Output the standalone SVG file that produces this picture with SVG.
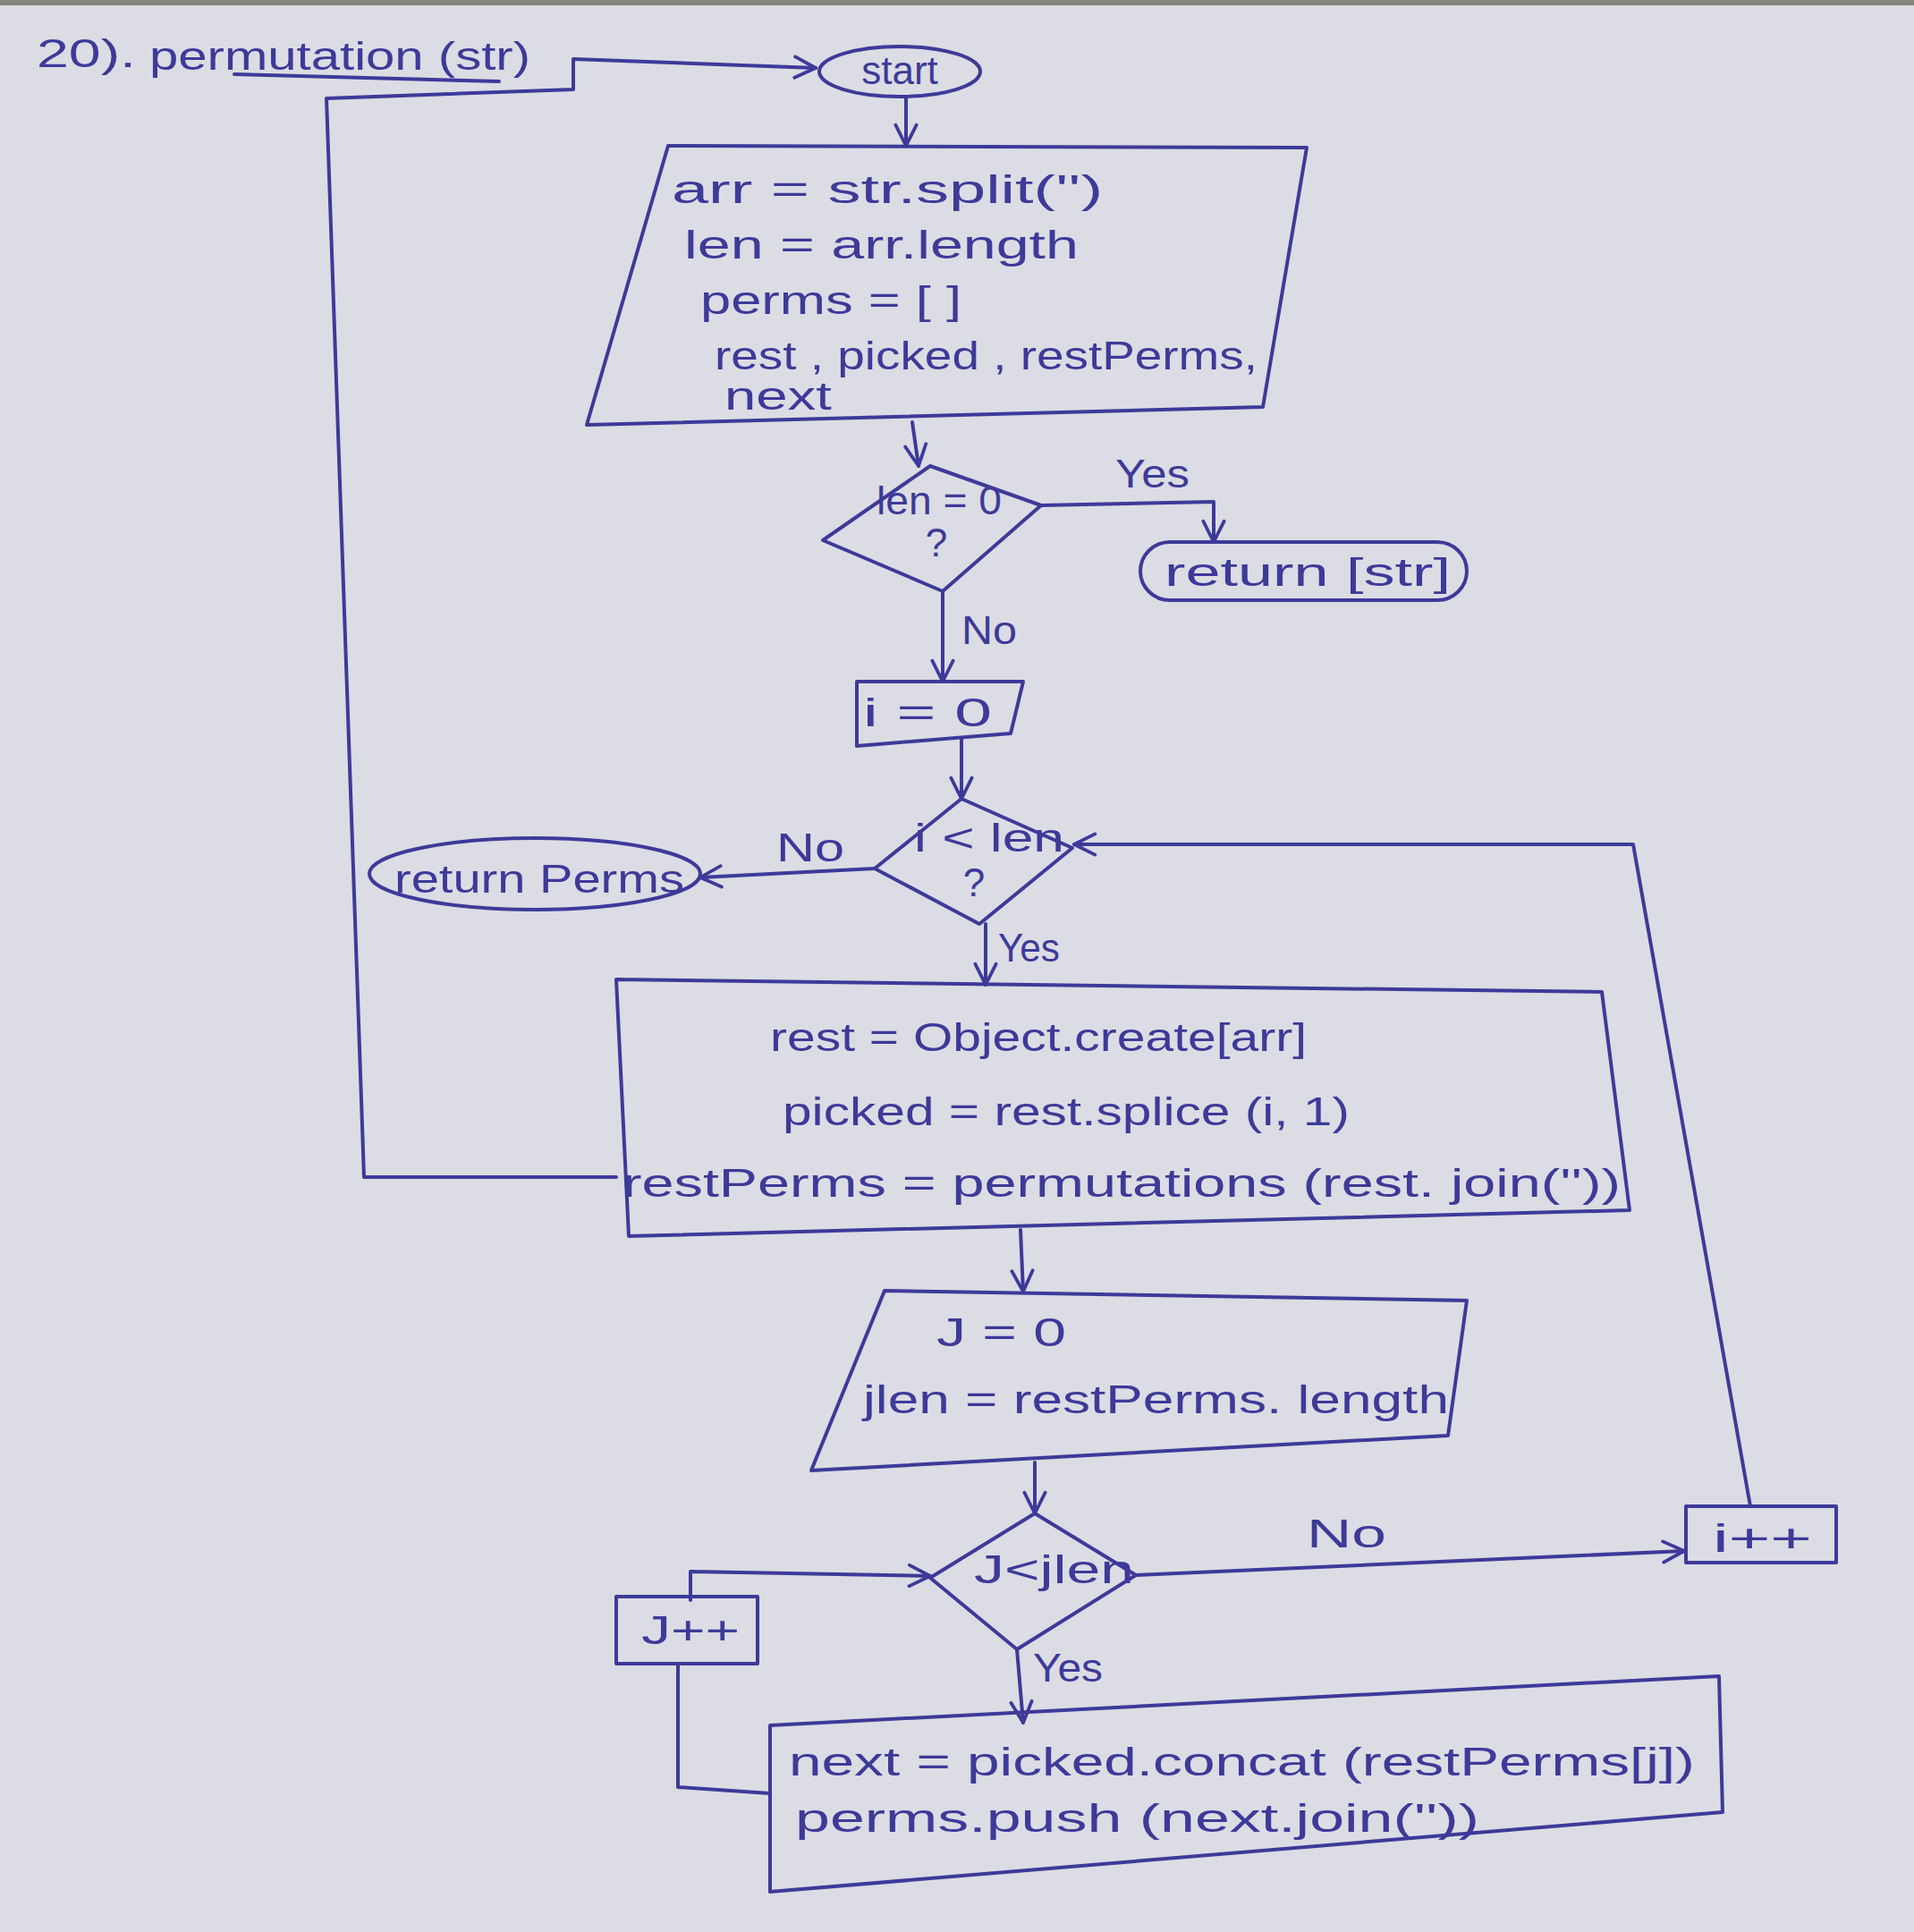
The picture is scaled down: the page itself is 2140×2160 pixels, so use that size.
<svg xmlns="http://www.w3.org/2000/svg" width="2140" height="2160" viewBox="0 0 2140 2160">
<style>
.ink{fill:none;stroke:#3d3a99;stroke-width:4;stroke-linejoin:round;stroke-linecap:round}
.t{font-family:"Liberation Sans","DejaVu Sans",sans-serif;font-size:44px;fill:#3d3a99}
.c{text-anchor:middle}
</style>
<defs>
<marker id="ah" viewBox="0 0 12 12" refX="11" refY="6" markerWidth="7" markerHeight="7" orient="auto" markerUnits="strokeWidth">
<path d="M1,1 L11,6 L1,11" fill="none" stroke="#3d3a99" stroke-width="1.6" stroke-linecap="round" stroke-linejoin="round"/>
</marker>
</defs>
<rect width="2140" height="2160" fill="#dcdce4"/>
<rect width="2140" height="6" fill="#8a8680"/>

<g id="title">
<text class="t" x="41" y="75" font-size="46" textLength="111" lengthAdjust="spacingAndGlyphs">20).</text>
<text class="t" x="167" y="78" font-size="46" textLength="426" lengthAdjust="spacingAndGlyphs">permutation (str)</text>
<path class="ink" d="M262,83 L558,91" stroke-width="3"/>
</g>

<g id="connectors">
<path class="ink" d="M689,1316 L407,1316 L365,110 L641,100 L641,66 L912,76" marker-end="url(#ah)"/>
<path class="ink" d="M1013,108 L1013,163" marker-end="url(#ah)"/>
<path class="ink" d="M1020,472 L1027,521" marker-end="url(#ah)"/>
<path class="ink" d="M1164,565 L1357,561 L1357,606" marker-end="url(#ah)"/>
<path class="ink" d="M1054,661 L1054,762" marker-end="url(#ah)"/>
<path class="ink" d="M1075,825 L1075,893" marker-end="url(#ah)"/>
<path class="ink" d="M978,971 L783,981" marker-end="url(#ah)"/>
<path class="ink" d="M1102,1033 L1102,1101" marker-end="url(#ah)"/>
<path class="ink" d="M1141,1375 L1144,1444" marker-end="url(#ah)"/>
<path class="ink" d="M1157,1635 L1157,1692" marker-end="url(#ah)"/>
<path class="ink" d="M1270,1761 L1883,1734" marker-end="url(#ah)"/>
<path class="ink" d="M1957,1684 L1826,944 L1201,944" marker-end="url(#ah)"/>
<path class="ink" d="M1137,1844 L1144,1926" marker-end="url(#ah)"/>
<path class="ink" d="M861,2005 L758,1998 L758,1860"/>
<path class="ink" d="M772,1789 L772,1757 L1040,1762" marker-end="url(#ah)"/>
</g>

<g id="start">
<ellipse class="ink" cx="1006" cy="80" rx="90" ry="28"/>
<text class="t c" x="1006" y="94">start</text>
</g>

<g id="init">
<path class="ink" d="M747,163 L1461,165 L1412,455 L656,475 Z"/>
<text class="t" x="751" y="227" textLength="482" lengthAdjust="spacingAndGlyphs">arr = str.split('')</text>
<text class="t" x="765" y="289" textLength="441" lengthAdjust="spacingAndGlyphs">len = arr.length</text>
<text class="t" x="783" y="351" textLength="292" lengthAdjust="spacingAndGlyphs">perms = [ ]</text>
<text class="t" x="799" y="413" textLength="607" lengthAdjust="spacingAndGlyphs">rest , picked , restPerms,</text>
<text class="t" x="810" y="458" textLength="120" lengthAdjust="spacingAndGlyphs">next</text>
</g>

<g id="cond-len">
<path class="ink" d="M1040,521 L1164,565 L1054,661 L920,604 Z"/>
<text class="t" x="980" y="575" font-size="40" textLength="140" lengthAdjust="spacingAndGlyphs">len = 0</text>
<text class="t c" x="1047" y="622" font-size="40">?</text>
</g>
<text class="t" x="1247" y="545" textLength="83" lengthAdjust="spacingAndGlyphs">Yes</text>
<text class="t" x="1075" y="720" textLength="62" lengthAdjust="spacingAndGlyphs">No</text>

<g id="return-str">
<rect class="ink" x="1275" y="606" width="365" height="65" rx="33"/>
<text class="t" x="1302" y="655" textLength="320" lengthAdjust="spacingAndGlyphs">return [str]</text>
</g>

<g id="i-init">
<path class="ink" d="M958,762 L1144,762 L1130,820 L958,834 Z"/>
<text class="t" x="965" y="812" textLength="144" lengthAdjust="spacingAndGlyphs">i = 0</text>
</g>

<g id="cond-i">
<path class="ink" d="M1075,893 L1199,948 L1095,1033 L978,971 Z"/>
<text class="t" x="1022" y="952" font-size="38" textLength="168" lengthAdjust="spacingAndGlyphs">i &lt; len</text>
<text class="t c" x="1089" y="1002" font-size="38">?</text>
</g>
<text class="t" x="868" y="963" textLength="76" lengthAdjust="spacingAndGlyphs">No</text>
<text class="t" x="1116" y="1075" textLength="69" lengthAdjust="spacingAndGlyphs">Yes</text>

<g id="return-perms">
<ellipse class="ink" cx="598" cy="977" rx="185" ry="40"/>
<text class="t" x="441" y="998" textLength="324" lengthAdjust="spacingAndGlyphs">return Perms</text>
</g>

<g id="body">
<path class="ink" d="M689,1095 L1791,1109 L1822,1353 L703,1382 Z"/>
<text class="t" x="861" y="1175" textLength="600" lengthAdjust="spacingAndGlyphs">rest = Object.create[arr]</text>
<text class="t" x="875" y="1258" textLength="634" lengthAdjust="spacingAndGlyphs">picked = rest.splice (i, 1)</text>
<text class="t" x="696" y="1338" textLength="1116" lengthAdjust="spacingAndGlyphs">restPerms = permutations (rest. join(''))</text>
</g>

<g id="j-init">
<path class="ink" d="M989,1443 L1640,1454 L1619,1605 L907,1644 Z"/>
<text class="t" x="1047" y="1505" textLength="145" lengthAdjust="spacingAndGlyphs">J = 0</text>
<text class="t" x="965" y="1580" textLength="655" lengthAdjust="spacingAndGlyphs">jlen = restPerms. length</text>
</g>

<g id="cond-j">
<path class="ink" d="M1157,1692 L1270,1761 L1137,1844 L1040,1764 Z"/>
<text class="t" x="1089" y="1770" textLength="179" lengthAdjust="spacingAndGlyphs">J&lt;jlen</text>
</g>
<text class="t" x="1461" y="1730" textLength="89" lengthAdjust="spacingAndGlyphs">No</text>
<text class="t" x="1155" y="1880" textLength="78" lengthAdjust="spacingAndGlyphs">Yes</text>

<g id="i-inc">
<rect class="ink" x="1885" y="1684" width="168" height="63"/>
<text class="t" x="1915" y="1735" textLength="111" lengthAdjust="spacingAndGlyphs">i++</text>
</g>

<g id="j-inc">
<rect class="ink" x="689" y="1785" width="158" height="75"/>
<text class="t" x="717" y="1838" textLength="110" lengthAdjust="spacingAndGlyphs">J++</text>
</g>

<g id="push">
<path class="ink" d="M861,1929 L1922,1874 L1926,2026 L861,2115 Z"/>
<text class="t" x="882" y="1985" textLength="1013" lengthAdjust="spacingAndGlyphs">next = picked.concat (restPerms[j])</text>
<text class="t" x="889" y="2048" textLength="765" lengthAdjust="spacingAndGlyphs">perms.push (next.join(''))</text>
</g>
</svg>
